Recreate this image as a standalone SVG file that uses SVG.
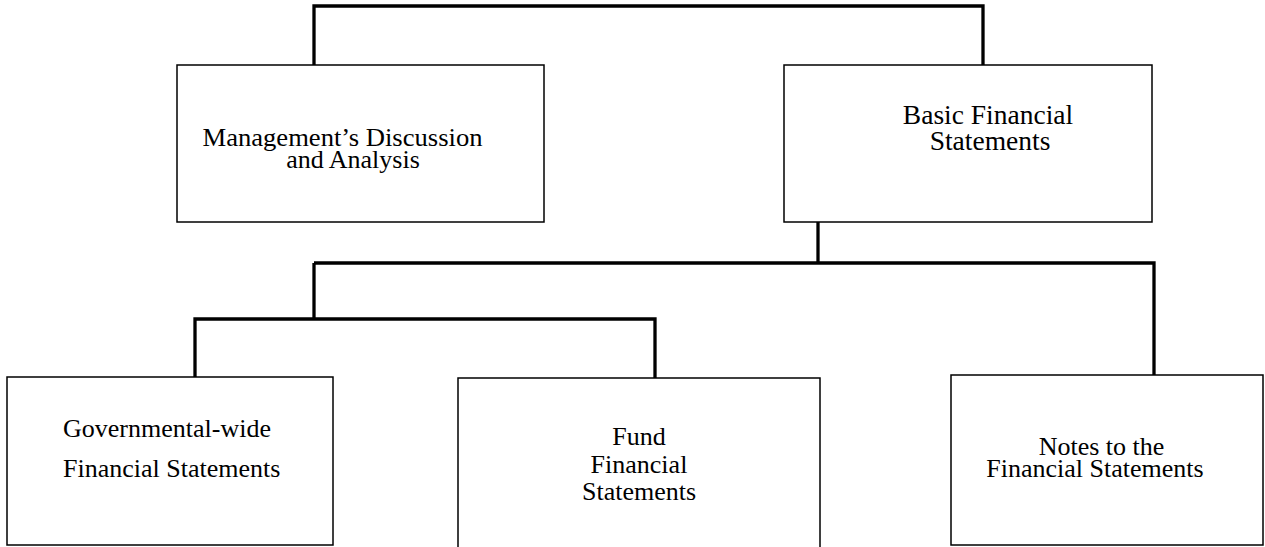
<svg xmlns="http://www.w3.org/2000/svg" width="1265" height="547" viewBox="0 0 1265 547">
<style>
.box{fill:#fff;stroke:#000;stroke-width:1.5}
.lbl{font-family:"Liberation Serif","Times New Roman",serif;font-size:26px;fill:#000}
.big{font-size:27.5px}
.c{text-anchor:middle}
.conn{fill:none;stroke:#000;stroke-width:3.3}
</style>
<rect width="1265" height="547" fill="#fff"/>
<g id="connectors">
<path class="conn" d="M314,65 V6 H983 V65"/>
<path class="conn" d="M818,222 V263"/>
<path class="conn" d="M314,263 H1154 V376"/>
<path class="conn" d="M314,263 V319"/>
<path class="conn" d="M195,377 V319 H655 V378"/>
</g>
<g id="mdna">
<rect class="box" x="177" y="65" width="367" height="157"/>
<text class="lbl c" x="342.5" y="146" textLength="280" lengthAdjust="spacingAndGlyphs">Management’s Discussion</text>
<text class="lbl c" x="353" y="168">and Analysis</text>
</g>
<g id="basic">
<rect class="box" x="784" y="65" width="368" height="157"/>
<text class="lbl big c" x="988" y="124">Basic Financial</text>
<text class="lbl big c" x="990" y="150">Statements</text>
</g>
<g id="govwide">
<rect class="box" x="7" y="377" width="326" height="168"/>
<text class="lbl" x="63" y="437">Governmental-wide</text>
<text class="lbl" x="63" y="477">Financial Statements</text>
</g>
<g id="fund">
<rect class="box" x="458" y="378" width="362" height="200"/>
<text class="lbl c" x="639" y="445">Fund</text>
<text class="lbl c" x="639" y="473">Financial</text>
<text class="lbl c" x="639" y="500">Statements</text>
</g>
<g id="notes">
<rect class="box" x="951" y="375" width="312" height="170"/>
<text class="lbl c" x="1101.5" y="455">Notes to the</text>
<text class="lbl c" x="1095" y="477">Financial Statements</text>
</g>
</svg>
